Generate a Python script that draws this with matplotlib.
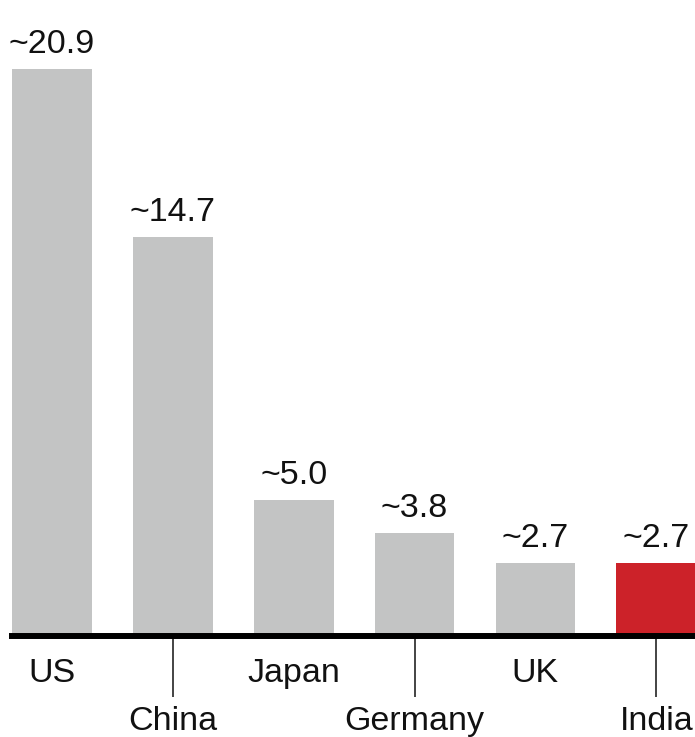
import matplotlib
matplotlib.use("Agg")
import matplotlib.pyplot as plt

countries = ["US", "China", "Japan", "Germany", "UK", "India"]
values = [20.9, 14.7, 5.0, 3.8, 2.7, 2.7]
value_labels = ["~20.9", "~14.7", "~5.0", "~3.8", "~2.7", "~2.7"]
highlight = "India"

GRAY = "#C3C4C4"
RED = "#CC2229"
FS = 24.5

plt.rcParams["font.family"] = ["Liberation Sans", "DejaVu Sans"]

fig = plt.figure(figsize=(6.95, 7.37), dpi=100)
ax = fig.add_axes([12 / 695, 101 / 737, 683 / 695, 636 / 737])

x = list(range(len(countries)))
colors = [RED if c == highlight else GRAY for c in countries]
bars = ax.bar(x, values, width=0.66, color=colors, zorder=1)

ax.set_xlim(-0.33, 5.32)
ax.set_ylim(0, 23.45)

for xi, v, lab in zip(x, values, value_labels):
    ax.annotate(lab, xy=(xi, v), xytext=(0, 16), textcoords="offset pixels",
                ha="center", va="baseline", fontsize=FS, color="#111111",
                annotation_clip=False)

for s in ["top", "right", "left"]:
    ax.spines[s].set_visible(False)
ax.spines["bottom"].set_linewidth(4.3)
ax.spines["bottom"].set_color("black")
ax.spines["bottom"].set_zorder(3)

ax.set_yticks([])
# staggered labels: odd categories get a leader tick down to the lower row
ax.set_xticks(x[1::2])
ax.set_xticklabels([])
ax.tick_params(axis="x", direction="out", length=44, width=1.1, color="#111111")

trans = ax.get_xaxis_transform()
for i, (xi, name) in enumerate(zip(x, countries)):
    off = -46 if i % 2 == 0 else -94
    ax.annotate(name, xy=(xi, 0), xycoords=trans, xytext=(0, off),
                textcoords="offset pixels", ha="center", va="baseline",
                fontsize=FS, color="#111111", annotation_clip=False)

fig.savefig("out.png", dpi=100)
